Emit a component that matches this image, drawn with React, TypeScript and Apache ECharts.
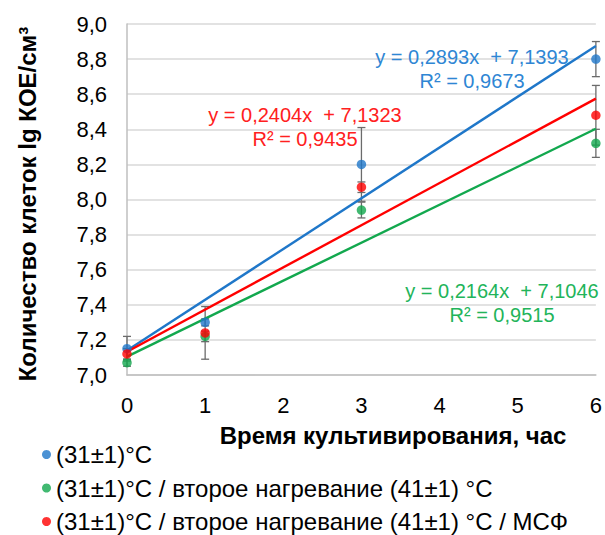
import React, { useEffect, useRef } from "react";
import * as echarts from "echarts";

// Cultivation time, hours
const hours = [0, 1, 3, 6];

// Cell count, lg CFU/cm³ (means and error half-widths)
const seriesNames = [
  "(31±1)°C",
  "(31±1)°C / второе нагревание (41±1) °C",
  "(31±1)°C / второе нагревание (41±1) °C / МСФ",
];
const blueValues = [7.15, 7.3, 8.2, 8.8];
const blueErrors = [0.07, 0.02, 0.21, 0.1];
const greenValues = [7.07, 7.22, 7.94, 8.32];
const greenErrors = [0.02, 0.03, 0.045, 0.08];
const redValues = [7.12, 7.24, 8.07, 8.48];
const redErrors = [0.03, 0.15, 0.03, 0.17];

// Linear trendlines: y = slope * x + intercept
const slopes = [0.2893, 0.2164, 0.2404];
const intercepts = [7.1393, 7.1046, 7.1323];
const rSquared = ["0,9673", "0,9515", "0,9435"];

const yTicks = [7.0, 7.2, 7.4, 7.6, 7.8, 8.0, 8.2, 8.4, 8.6, 8.8, 9.0];

const COLORS = ["#1F77C9", "#12A84E", "#FF0000"];
const LABEL_COLORS = ["#2E86D4", "#22B45A", "#FF2020"];
const FONT = '"Liberation Sans", Arial, sans-serif';

const fmt = (v: number) => v.toFixed(4).replace(".", ",");

export default function App() {
  const ref = useRef<HTMLDivElement>(null);

  useEffect(() => {
    if (!ref.current) return;
    const chart = echarts.init(ref.current, undefined, { renderer: "svg" });

    const values = [blueValues, greenValues, redValues];
    const errors = [blueErrors, greenErrors, redErrors];

    const errorSeries = values.map((vals, s) => ({
      type: "custom",
      name: "err" + s,
      z: 2,
      silent: true,
      data: hours.map((h, i) => [h, vals[i] - errors[s][i], vals[i] + errors[s][i]]),
      renderItem: (_p: any, api: any) => {
        const x = api.value(0);
        const lo = api.coord([x, api.value(1)]);
        const hi = api.coord([x, api.value(2)]);
        const cap = 4;
        const style = { stroke: "#6B6B6B", lineWidth: 1.3 };
        return {
          type: "group",
          children: [
            { type: "line", shape: { x1: lo[0], y1: lo[1], x2: hi[0], y2: hi[1] }, style },
            { type: "line", shape: { x1: hi[0] - cap, y1: hi[1], x2: hi[0] + cap, y2: hi[1] }, style },
            { type: "line", shape: { x1: lo[0] - cap, y1: lo[1], x2: lo[0] + cap, y2: lo[1] }, style },
          ],
        };
      },
    }));

    const x0 = hours[0];
    const x1 = hours[hours.length - 1];
    const trendSeries = slopes.map((a, s) => ({
      type: "line",
      name: "trend" + s,
      z: 3,
      silent: true,
      symbol: "none",
      lineStyle: { color: COLORS[s], width: 2.4 },
      data: [
        [x0, a * x0 + intercepts[s]],
        [x1, a * x1 + intercepts[s]],
      ],
    }));

    const pointSeries = values.map((vals, s) => ({
      type: "scatter",
      name: seriesNames[s],
      z: 4,
      symbol: "circle",
      symbolSize: 9.5,
      itemStyle: { color: COLORS[s] },
      data: hours.map((h, i) => [h, vals[i]]),
    }));

    // Trendline equation labels (centre x, centre y of the first line)
    const eqPos = [
      [472, 57],
      [502, 291],
      [305, 115],
    ];
    const eqGraphics: any[] = [];
    slopes.forEach((a, s) => {
      const [cx, cy] = eqPos[s];
      eqGraphics.push({
        type: "text",
        x: cx,
        y: cy,
        z: 10,
        style: {
          text: `y = ${fmt(a)}x  + ${fmt(intercepts[s])}`,
          fill: LABEL_COLORS[s],
          font: `20px ${FONT}`,
          align: "center",
          verticalAlign: "middle",
        },
      });
      eqGraphics.push({
        type: "text",
        x: cx,
        y: cy + 24,
        z: 10,
        style: {
          text: `R² = ${rSquared[s]}`,
          fill: LABEL_COLORS[s],
          font: `20px ${FONT}`,
          align: "center",
          verticalAlign: "middle",
        },
      });
    });

    chart.setOption({
      animation: false,
      grid: { left: 127, right: 7, top: 24, bottom: 160 },
      xAxis: {
        type: "value",
        min: 0,
        max: 6,
        interval: 1,
        axisLine: { show: true, lineStyle: { color: "#BFBFBF", width: 1.5 } },
        axisTick: { show: false },
        splitLine: { show: false },
        axisLabel: { fontSize: 22, color: "#000", margin: 19, fontFamily: FONT },
      },
      yAxis: {
        type: "value",
        min: yTicks[0],
        max: yTicks[yTicks.length - 1],
        interval: 0.2,
        axisLine: { show: true, lineStyle: { color: "#BFBFBF", width: 1.5 } },
        axisTick: { show: false },
        splitLine: { show: true, lineStyle: { color: "#D9D9D9", width: 1.5 } },
        axisLabel: {
          fontSize: 22,
          color: "#000",
          margin: 20,
          fontFamily: FONT,
          formatter: (v: number) => v.toFixed(1).replace(".", ","),
        },
      },
      legend: {
        data: seriesNames,
        orient: "vertical",
        left: 42,
        top: 442,
        height: 100,
        padding: 0,
        itemGap: 8.5,
        itemWidth: 9,
        itemHeight: 9,
        icon: "circle",
        textStyle: { fontSize: 24, color: "#000", fontFamily: FONT, lineHeight: 25 },
      },
      graphic: [
        {
          type: "text",
          x: 393,
          y: 435,
          style: {
            text: "Время культивирования, час",
            fill: "#000",
            font: `bold 24px ${FONT}`,
            align: "center",
            verticalAlign: "middle",
          },
        },
        {
          type: "text",
          x: 27,
          y: 204,
          rotation: Math.PI / 2,
          style: {
            text: "Количество клеток lg КОЕ/см³",
            fill: "#000",
            font: `bold 24px ${FONT}`,
            align: "center",
            verticalAlign: "middle",
          },
        },
        ...eqGraphics,
      ],
      series: [...errorSeries, ...trendSeries, ...pointSeries],
    });

    return () => chart.dispose();
  }, []);

  return (
    <div
      ref={ref}
      style={{ position: "absolute", left: 0, top: 0, width: 605, height: 535 }}
    />
  );
}
